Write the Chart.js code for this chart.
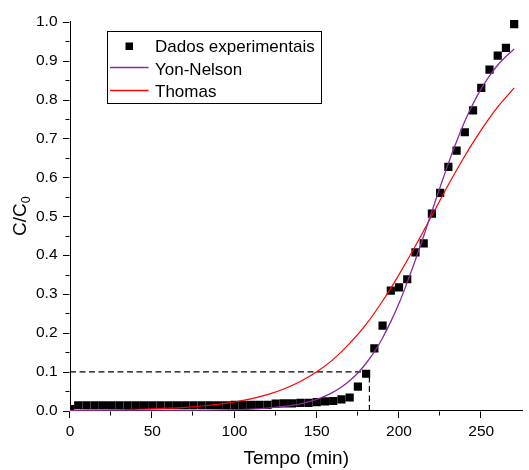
<!DOCTYPE html>
<html>
<head>
<meta charset="utf-8">
<script src="https://cdn.jsdelivr.net/npm/chart.js@4.4.1/dist/chart.umd.min.js"></script>
<style>
  html, body { margin: 0; padding: 0; background: #ffffff; }
  #wrap { width: 529px; height: 470px; }
</style>
</head>
<body>
<div id="wrap"><canvas id="c" width="529" height="470"></canvas></div>
<script>
// ---- data ----
const timeMin = [0,5,10,15,20,25,30,35,40,45,50,55,60,65,70,75,80,85,90,95,100,105,110,115,120,
  125,130,135,140,145,150,155,160,165,170,175,180,185,190,195,200,205,210,215,220,225,230,235,240,245,250,255,260,265,270];
const expCC0 = [0.004,0.014,0.014,0.014,0.014,0.014,0.014,0.014,0.014,0.014,0.014,0.014,0.014,0.014,0.014,0.014,0.014,0.014,0.014,0.014,0.015,0.015,0.015,0.015,0.015,
  0.018,0.019,0.019,0.020,0.020,0.022,0.024,0.025,0.029,0.034,0.062,0.095,0.160,0.219,0.309,0.317,0.338,0.407,0.430,0.507,0.560,0.627,0.669,0.716,0.772,0.830,0.877,0.913,0.933,0.994];

const yonTime = [0,10,20,30,40,50,60,70,80,90,100,110,120,130,140,150,155,160,165,170,175,180,185,190,195,200,205,210,215,220,225,230,235,240,245,250,255,260,265,270];
const yonNelson = [0.0000,0.0000,0.0000,0.0001,0.0001,0.0002,0.0003,0.0005,0.0009,0.0014,0.0024,0.0040,0.0066,0.0109,0.0178,0.0294,0.0375,0.0478,0.0608,0.077,0.097,0.122,0.151,0.187,0.229,0.276,0.330,0.388,0.449,0.513,0.575,0.636,0.692,0.744,0.789,0.828,0.861,0.889,0.911,0.930];

const thomasTime = [0,10,20,30,40,50,60,70,80,90,100,110,120,130,140,150,160,170,180,190,200,210,220,230,240,250,260,270];
const thomas = [0.0010,0.0013,0.0018,0.0025,0.0035,0.0047,0.0065,0.0088,0.0121,0.0165,0.0224,0.0305,0.0413,0.0558,0.075,0.100,0.132,0.173,0.222,0.282,0.350,0.424,0.502,0.581,0.655,0.722,0.781,0.830];

const breakthroughTime = 182;
const breakthroughCC0 = 0.1;

const seriesLabels = ['Dados experimentais', 'Yon-Nelson', 'Thomas'];
const xTickValues = [0,50,100,150,200,250];
const xMinorTicks = [25,75,125,175,225];
const yTickValues = [0,0.1,0.2,0.3,0.4,0.5,0.6,0.7,0.8,0.9,1.0];
const yMinorTicks = [0.05,0.15,0.25,0.35,0.45,0.55,0.65,0.75,0.85,0.95];
const xTitle = 'Tempo (min)';
const yTitleMain = 'C/C';
const yTitleSub = '0';

// ---- styles ----
const FONT = "'Liberation Sans', Arial, sans-serif";
const PURPLE = '#8a2a9e';
const RED = '#ff0000';

const pts = (xs, ys) => xs.map((x, i) => ({ x: x, y: ys[i] }));

const ticksPlugin = {
  id: 'ticksAndExtras',
  afterDraw(chart) {
    const ctx = chart.ctx;
    const xs = chart.scales.x, ys = chart.scales.y;
    const area = chart.chartArea;
    ctx.save();
    ctx.strokeStyle = '#000';
    ctx.lineWidth = 1;
    const bottom = Math.round(area.bottom) + 0.5;
    const left = Math.round(area.left) - 0.5;
    ctx.beginPath();
    xTickValues.forEach(v => { const p = Math.round(xs.getPixelForValue(v)) - 0.5; ctx.moveTo(p, bottom); ctx.lineTo(p, bottom + 6.5); });
    xMinorTicks.forEach(v => { const p = Math.round(xs.getPixelForValue(v)) - 0.5; ctx.moveTo(p, bottom); ctx.lineTo(p, bottom + 4); });
    yTickValues.forEach(v => { const p = Math.round(ys.getPixelForValue(v)) + 0.5; ctx.moveTo(left, p); ctx.lineTo(left - 6.5, p); });
    yMinorTicks.forEach(v => { const p = Math.round(ys.getPixelForValue(v)) + 0.5; ctx.moveTo(left, p); ctx.lineTo(left - 4, p); });
    ctx.stroke();

    // y-axis title with subscript
    ctx.fillStyle = '#000';
    ctx.translate(25.5, (area.top + area.bottom) / 2);
    ctx.rotate(-Math.PI / 2);
    ctx.font = '19px ' + FONT;
    const w1 = ctx.measureText(yTitleMain).width;
    ctx.font = '12.5px ' + FONT;
    const w2 = ctx.measureText(yTitleSub).width;
    const start = -(w1 + w2) / 2;
    ctx.textBaseline = 'alphabetic';
    ctx.textAlign = 'left';
    ctx.font = '19px ' + FONT;
    ctx.fillText(yTitleMain, start, 0);
    ctx.font = '12.5px ' + FONT;
    ctx.fillText(yTitleSub, start + w1, 4);
    ctx.restore();

    // legend
    ctx.save();
    ctx.fillStyle = '#fff';
    ctx.fillRect(107.5, 31.5, 214, 72);
    ctx.strokeStyle = '#000';
    ctx.lineWidth = 1;
    ctx.strokeRect(107.5, 31.5, 214, 72);
    ctx.font = '17px ' + FONT;
    ctx.fillStyle = '#000';
    ctx.textBaseline = 'alphabetic';
    ctx.textAlign = 'left';
    const rows = [52.3, 74.5, 96.7];
    ctx.fillRect(125.5, 42.5, 7.5, 7.5);
    ctx.fillText(seriesLabels[0], 155, rows[0]);
    ctx.lineWidth = 1.3;
    ctx.strokeStyle = PURPLE;
    ctx.beginPath(); ctx.moveTo(110, 67.5); ctx.lineTo(148.5, 67.5); ctx.stroke();
    ctx.fillText(seriesLabels[1], 155, rows[1]);
    ctx.strokeStyle = RED;
    ctx.beginPath(); ctx.moveTo(110, 90.5); ctx.lineTo(148.5, 90.5); ctx.stroke();
    ctx.fillText(seriesLabels[2], 155, rows[2]);
    ctx.restore();
  }
};

new Chart(document.getElementById('c'), {
  type: 'scatter',
  data: {
    datasets: [
      {
        label: seriesLabels[1], type: 'line', data: pts(yonTime, yonNelson),
        borderColor: PURPLE, borderWidth: 1.3, pointRadius: 0, fill: false,
        cubicInterpolationMode: 'monotone', clip: 0
      },
      {
        label: seriesLabels[2], type: 'line', data: pts(thomasTime, thomas),
        borderColor: RED, borderWidth: 1.2, pointRadius: 0, fill: false,
        cubicInterpolationMode: 'monotone', clip: 0
      },
      {
        label: 'breakthrough', type: 'line',
        data: [{ x: 0, y: breakthroughCC0 }, { x: breakthroughTime, y: breakthroughCC0 }, { x: breakthroughTime, y: 0 }],
        borderColor: '#000', borderWidth: 1.2, borderDash: [6, 3.5], pointRadius: 0, fill: false, tension: 0
      },
      {
        label: seriesLabels[0], data: pts(timeMin, expCC0),
        pointStyle: 'rect', pointRadius: 5.8, pointHoverRadius: 5.8,
        backgroundColor: '#000', borderColor: '#000', borderWidth: 0,
        clip: { left: 0, bottom: 0, top: 6, right: 6 }
      }
    ]
  },
  options: {
    responsive: false,
    animation: false,
    devicePixelRatio: 1,
    layout: { padding: { top: 21.7, right: 6.6, left: 0, bottom: 0 } },
    plugins: { legend: { display: false }, tooltip: { enabled: false } },
    events: [],
    scales: {
      x: {
        type: 'linear', min: 0, max: 275,
        afterFit: s => { s.height = 59.3; },
        afterBuildTicks: s => { s.ticks = xTickValues.map(v => ({ value: v })); },
        grid: { display: true, drawOnChartArea: false, drawTicks: false },
        border: { display: true, color: '#000', width: 1 },
        ticks: { padding: 12, color: '#000', font: { family: FONT, size: 15.5 }, maxRotation: 0, callback: v => String(v) },
        title: { display: true, text: xTitle, color: '#000', font: { family: FONT, size: 19 }, padding: { top: 0, bottom: 0 } }
      },
      y: {
        type: 'linear', min: 0, max: 1,
        afterFit: s => { s.width = 70; },
        afterBuildTicks: s => { s.ticks = yTickValues.map(v => ({ value: v })); },
        grid: { display: true, drawOnChartArea: false, drawTicks: false },
        border: { display: true, color: '#000', width: 1 },
        ticks: { padding: 12.5, color: '#000', font: { family: FONT, size: 15.5 }, callback: v => Number(v).toFixed(1) }
      }
    }
  },
  plugins: [ticksPlugin]
});
</script>
</body>
</html>
